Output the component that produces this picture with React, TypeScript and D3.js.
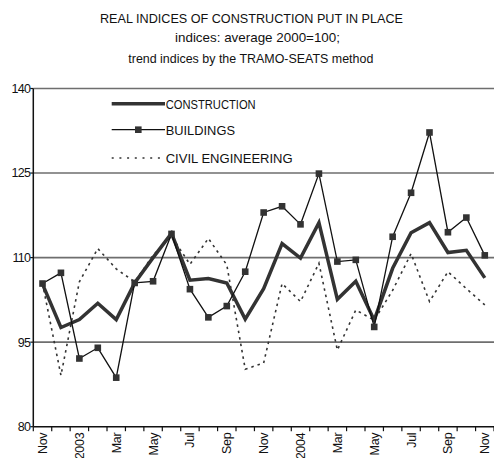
import React from "react";
import * as d3 from "d3";

const months = ["Nov","Dec","2003","Feb","Mar","Apr","May","Jun","Jul","Aug","Sep","Oct","Nov","Dec","2004","Feb","Mar","Apr","May","Jun","Jul","Aug","Sep","Oct","Nov"];
const construction = [105.3, 97.6, 99.0, 101.9, 99.0, 105.5, 110.0, 114.3, 106.0, 106.3, 105.5, 99.1, 104.5, 112.5, 109.9, 116.2, 102.6, 105.8, 98.9, 108.1, 114.4, 116.2, 110.9, 111.3, 106.4];
const buildings = [105.4, 107.3, 92.1, 94.0, 88.7, 105.5, 105.8, 114.2, 104.4, 99.4, 101.4, 107.5, 118.0, 119.1, 115.9, 124.9, 109.3, 109.6, 97.7, 113.7, 121.5, 132.2, 114.5, 117.1, 110.4];
const civil = [105.4, 89.1, 105.7, 111.6, 108.0, 105.7, 110.4, 113.8, 108.8, 113.4, 108.7, 90.2, 91.3, 105.4, 102.2, 109.0, 93.6, 100.7, 98.9, 104.2, 110.7, 102.2, 107.5, 104.5, 101.6];
const yTicks = [80, 95, 110, 125, 140];
const titleLines = [
  "REAL INDICES OF CONSTRUCTION PUT IN PLACE",
  "indices: average 2000=100;",
  "trend indices by the TRAMO-SEATS method",
];
const legendNames = ["CONSTRUCTION", "BUILDINGS", "CIVIL ENGINEERING"];

const W = 494, H = 458;
const left = 33.3, right = 494, top = 88.5, bottom = 426.7;
const font = "'Liberation Sans', Arial, Helvetica, sans-serif";

export default function App() {
  const idx = months.map((_, i) => i);
  const x = d3.scaleBand<number>().domain(idx).range([left, right]).paddingInner(0).paddingOuter(0);
  const cx = (i: number) => (x(i) as number) + x.bandwidth() / 2;
  const y = d3.scaleLinear().domain([80, 140]).range([bottom, top]);
  const line = d3.line<number>().x((_, i) => cx(i)).y((d) => y(d));

  const boundaries = d3.range(months.length + 1).map((i) => left + i * x.step());

  const titleSpecs = [
    { x: 100, yb: 22.7, len: 303 },
    { x: 175, yb: 42, len: 165 },
    { x: 128.3, yb: 63.3, len: 245 },
  ];
  const legY = [103.7, 129.7, 158];
  const legLens = [90, 69.3, 127];

  return (
    <svg width={W} height={H} style={{ position: "absolute", left: 0, top: 0, background: "#fff", fontFamily: font }}>
      <rect x={0} y={0} width={W} height={H} fill="#fff" />
      {titleLines.map((t, i) => (
        <text key={i} x={titleSpecs[i].x} y={titleSpecs[i].yb} fontSize={13} fill="#111"
          textLength={titleSpecs[i].len} lengthAdjust="spacingAndGlyphs">{t}</text>
      ))}
      {yTicks.filter((t) => t > 80).map((t) => (
        <line key={t} x1={left} x2={right} y1={y(t)} y2={y(t)} stroke="#6e6e6e" strokeWidth={1.6} />
      ))}
      <line x1={left} x2={left} y1={top} y2={bottom} stroke="#111" strokeWidth={1.5} />
      {yTicks.map((t) => (
        <g key={t}>
          <line x1={left - 3} x2={left} y1={y(t)} y2={y(t)} stroke="#111" strokeWidth={1.2} />
          <text x={left - 3} y={y(t)} dy="0.35em" textAnchor="end" fontSize={12.5} fill="#111" letterSpacing={-0.7}>{t}</text>
        </g>
      ))}
      <line x1={left} x2={right} y1={bottom} y2={bottom} stroke="#111" strokeWidth={1.5} />
      {boundaries.map((bx, i) => (
        <line key={i} x1={bx} x2={bx} y1={bottom} y2={bottom + 4.5} stroke="#111" strokeWidth={1.2} />
      ))}
      {months.map((m, i) => i % 2 === 0 ? (
        <text key={i} transform={`translate(${cx(i) + 4.5},${bottom + 6}) rotate(-90)`} textAnchor="end"
          fontSize={12.5} fill="#111" letterSpacing={-0.3}>{m}</text>
      ) : null)}
      <path d={line(civil) || ""} fill="none" stroke="#333" strokeWidth={1.6} strokeDasharray="2.5,4" />
      <path d={line(construction) || ""} fill="none" stroke="#333" strokeWidth={3.5} strokeLinejoin="miter" />
      <path d={line(buildings) || ""} fill="none" stroke="#111" strokeWidth={1.3} />
      {buildings.map((v, i) => (
        <rect key={i} x={cx(i) - 3.3} y={y(v) - 3.3} width={6.6} height={6.6} fill="#333" />
      ))}
      <line x1={111.7} x2={165} y1={legY[0]} y2={legY[0]} stroke="#333" strokeWidth={3.5} />
      <line x1={111.7} x2={165} y1={legY[1]} y2={legY[1]} stroke="#111" strokeWidth={1.3} />
      <rect x={138.3 - 3.3} y={legY[1] - 3.3} width={6.6} height={6.6} fill="#333" />
      <line x1={111.7} x2={165} y1={legY[2]} y2={legY[2]} stroke="#333" strokeWidth={1.6} strokeDasharray="2,5.7" />
      {legendNames.map((n, i) => (
        <text key={n} x={165.7} y={legY[i] + 5} fontSize={12.5} fill="#111" textLength={legLens[i]}
          lengthAdjust="spacingAndGlyphs">{n}</text>
      ))}
    </svg>
  );
}
